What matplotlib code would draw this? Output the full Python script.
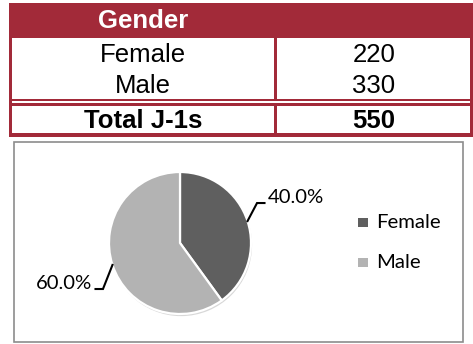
import matplotlib.pyplot as plt
from matplotlib.patches import Rectangle
import numpy as np

plt.rcParams['font.family'] = ['Liberation Sans', 'DejaVu Sans']

# table contents
header = 'Gender'
row_labels = ['Female', 'Male']
row_values = [220, 330]
total_label = 'Total J-1s'
total_value = 550

# pie contents
pie_labels = ['Female', 'Male']
pie_shares = [40.0, 60.0]
pie_colors = ['#5f5f5f', '#b3b3b3']

RED = '#a22a39'
W, H = 473, 344

fig = plt.figure(figsize=(W / 100, H / 100), dpi=100)
bg = fig.add_axes([0, 0, 1, 1])
bg.set_xlim(0, W)
bg.set_ylim(H, 0)
bg.axis('off')


def box(x0, y0, x1, y1, color):
    bg.add_patch(Rectangle((x0, y0), x1 - x0, y1 - y0, color=color, lw=0))


# table frame (red background with white cells cut out)
box(9, 3, 473, 37, RED)
box(9, 37, 473, 137, RED)
box(12, 38, 274, 99, 'white')
box(277, 38, 470, 99, 'white')
box(12, 101, 470, 103, 'white')
box(12, 106, 274, 133, 'white')
box(277, 106, 470, 133, 'white')

tfs = 18.5
bg.text(143, 28, header, color='white', fontsize=tfs, fontweight='bold',
        ha='center', va='baseline')
for i, (lab, val) in enumerate(zip(row_labels, row_values)):
    y = 62 + i * 31
    bg.text(143, y, lab, fontsize=tfs, ha='center', va='baseline')
    bg.text(374, y, str(val), fontsize=tfs, ha='center', va='baseline')
bg.text(143, 128, total_label, fontsize=tfs, fontweight='bold', ha='center', va='baseline')
bg.text(374, 128, str(total_value), fontsize=tfs, fontweight='bold', ha='center', va='baseline')

# chart frame
bg.add_patch(Rectangle((14, 142), 449, 200, fill=False, ec='#8c8c8c', lw=1.2))

# pie
cx, cy, r = 180, 243, 71
pax = fig.add_axes([(cx - r) / W, 1 - (cy + r) / H, 2 * r / W, 2 * r / H])
pax.axis('off')
# faint shadow under the pie
pax.pie([1], radius=1.0, colors=['#d8d8d8'], center=(0.015, -0.03),
        wedgeprops=dict(lw=0))
wedges, _ = pax.pie(pie_shares, colors=pie_colors, startangle=90, counterclock=False,
                    radius=1.0, wedgeprops=dict(ec='white', lw=1.6))
pax.set_xlim(-1, 1)
pax.set_ylim(-1, 1)

lab_font = ['Lato', 'DejaVu Sans']
lfs = 14.6
lifts = [0.254, 0.339]  # vertical rise of each leader line
for w, share, lift in zip(wedges, pie_shares, lifts):
    ang = np.deg2rad((w.theta1 + w.theta2) / 2)
    ex, ey = np.cos(ang), np.sin(ang)
    s = 1 if ex > 0 else -1
    elx, ely = ex + 0.134 * s, ey + lift * s
    hx = elx + 0.105 * s
    pax.plot([ex, elx, hx], [ey, ely, ely], color='black', lw=1.5, clip_on=False,
             solid_joinstyle='miter')
    pax.text(hx + 0.045 * s, ely, f'{share:.1f}%', fontsize=lfs, family=lab_font,
             ha='left' if s > 0 else 'right', va='baseline')

# legend
for i, (lab, col) in enumerate(zip(pie_labels, pie_colors)):
    y = 222 + i * 40
    bg.add_patch(Rectangle((358, y - 4.5), 9.5, 9.5, color=col, lw=0))
    bg.text(376, y + 6, lab, fontsize=lfs, family=lab_font, ha='left', va='baseline')

fig.savefig('out.png', dpi=100)
